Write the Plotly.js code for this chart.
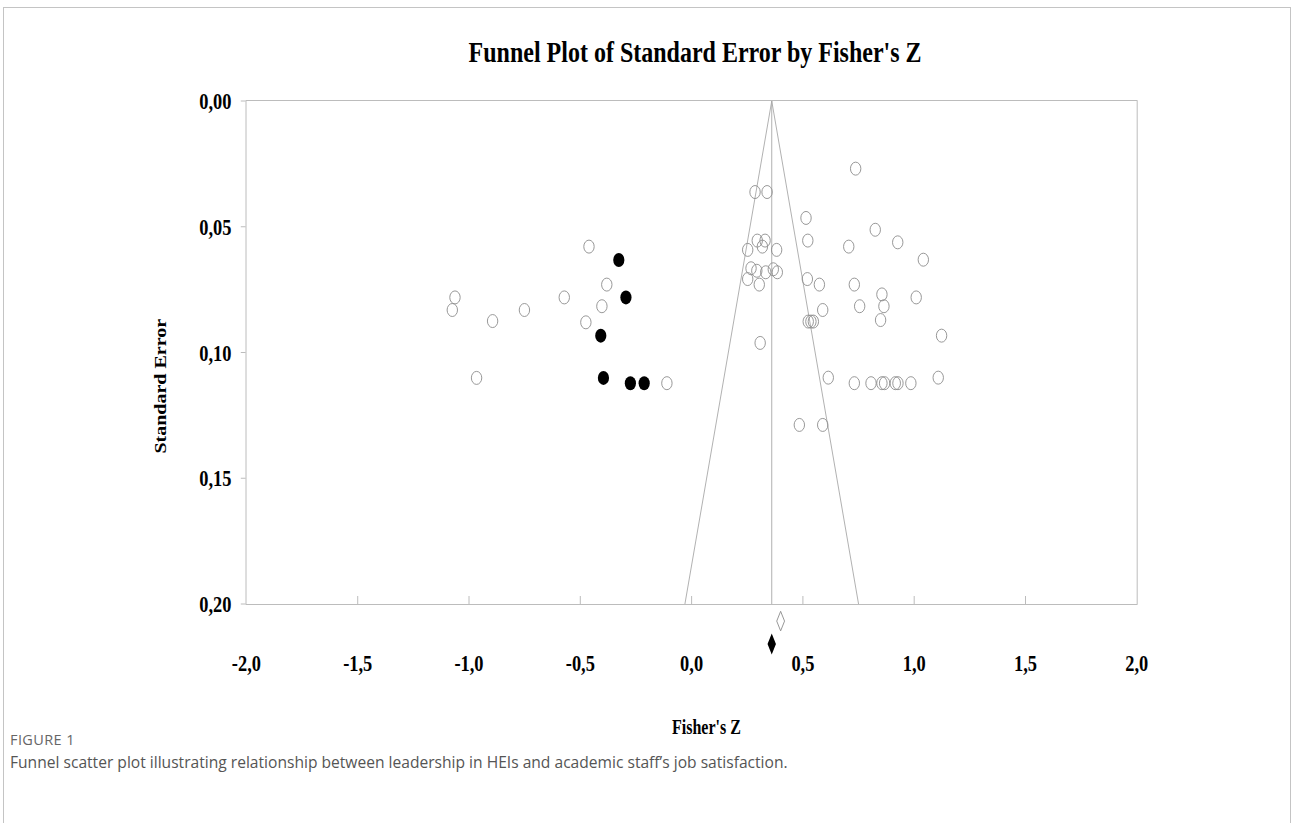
<!DOCTYPE html>
<html>
<head>
<meta charset="utf-8">
<script src="https://cdn.plot.ly/plotly-3.0.1.min.js"></script>
<style>
  html, body { margin: 0; padding: 0; background: #ffffff; overflow: hidden; width: 1293px; height: 823px; }
  #frame { position: absolute; left: 3px; top: 7px; width: 1286px; height: 830px;
           border: 1px solid #c4c4c4; border-bottom: none; }
  #clip { position: absolute; left: 0; top: 0; width: 1293px; height: 823px; overflow: hidden; }
  #chart { position: absolute; left: 0; top: 0; transform-origin: 0 0; }
  .cap1 { position: absolute; left: 10px; top: 730px; font-family: 'Open Sans', 'Noto Sans', sans-serif;
          font-size: 14.5px; color: #666666; letter-spacing: 0.4px; }
  .cap2 { position: absolute; left: 10px; top: 751px; font-family: 'Open Sans', 'Noto Sans', sans-serif;
          font-size: 15.6px; color: #555555; }
</style>
</head>
<body>
<div id="frame"></div>
<div id="clip"><div id="chart"></div></div>
<div class="cap1">FIGURE 1</div>
<div class="cap2">Funnel scatter plot illustrating relationship between leadership in HEIs and academic staff’s job satisfaction.</div>
<script>
// Observed studies (open circles)
const studyZ = [
  -0.461, -0.381, -1.063, -1.075, -0.751, -0.572, -0.403, -0.894, -0.475, -0.966, -0.111,
  0.737, 0.285, 0.339, 0.514, 0.825, 0.522, 0.926, 0.706, 0.295, 0.330, 0.318, 0.252, 0.382,
  1.041, 0.267, 0.293, 0.333, 0.367, 0.385, 0.252, 0.304, 0.520, 0.574, 0.731, 1.009, 0.855,
  0.864, 0.755, 0.589, 0.849, 0.524, 0.536, 0.547, 1.123, 0.308, 0.614, 1.108, 0.731, 0.806,
  0.855, 0.867, 0.915, 0.927, 0.985, 0.484, 0.589
];
const studySE = [
  0.0579, 0.0730, 0.0781, 0.0831, 0.0831, 0.0781, 0.0816, 0.0875, 0.0880, 0.1101, 0.1122,
  0.0269, 0.0362, 0.0362, 0.0465, 0.0512, 0.0555, 0.0562, 0.0579, 0.0555, 0.0555, 0.0579, 0.0592, 0.0592,
  0.0631, 0.0665, 0.0675, 0.0681, 0.0669, 0.0681, 0.0708, 0.0730, 0.0708, 0.0730, 0.0730, 0.0781, 0.0769,
  0.0816, 0.0816, 0.0831, 0.0871, 0.0877, 0.0877, 0.0877, 0.0933, 0.0962, 0.1100, 0.1100, 0.1122, 0.1122,
  0.1122, 0.1122, 0.1122, 0.1122, 0.1122, 0.1288, 0.1288
];
// Imputed studies (filled circles)
const imputedZ  = [-0.327, -0.295, -0.408, -0.396, -0.275, -0.213];
const imputedSE = [0.0632, 0.0781, 0.0933, 0.1101, 0.1122, 0.1122];

// Funnel and summary
const funnelZ  = [-0.03, 0.36, 0.75];
const funnelSE = [0.20, 0.00, 0.20];
const meanLineZ  = [0.36, 0.36];
const meanLineSE = [0.00, 0.20];
const observedSummaryZ = [0.40];
const observedSummarySE = [0.2068];
const adjustedSummaryZ = [0.36];
const adjustedSummarySE = [0.2159];

// Tick labels
const xTickVals = [-2.0, -1.5, -1.0, -0.5, 0.0, 0.5, 1.0, 1.5, 2.0];
const xTickText = ['-2,0', '-1,5', '-1,0', '-0,5', '0,0', '0,5', '1,0', '1,5', '2,0'];
const yTickVals = [0.00, 0.05, 0.10, 0.15, 0.20];
const yTickText = ['0,00', '0,05', '0,10', '0,15', '0,20'];

const serif = 'Liberation Serif, Times New Roman, serif';
const lineGray = '#a8a8a8';

// horizontal squeeze of the whole drawing (the source graphic is narrowed)
const SQ = 0.8;
const W = 1293, H = 823, L = 246, R = 1137, T = 101, B = 604, BD = 660;
const Wu = W / SQ, Lu = L / SQ, Ru = R / SQ;
const pw = R - L, ph = BD - T;
const px = v => (v - L) / pw;
const py = v => (BD - v) / ph;
const mainBottom = (BD - B) / ph;

const traces = [
  { x: funnelZ, y: funnelSE, type: 'scatter', mode: 'lines',
    line: { color: lineGray, width: 1 }, hoverinfo: 'skip', showlegend: false },
  { x: meanLineZ, y: meanLineSE, type: 'scatter', mode: 'lines',
    line: { color: lineGray, width: 1 }, hoverinfo: 'skip', showlegend: false },
  { x: studyZ, y: studySE, type: 'scatter', mode: 'markers', showlegend: false,
    marker: { symbol: 'circle-open', size: 13, color: '#8c8c8c', line: { width: 1, color: '#8c8c8c' } } },
  { x: imputedZ, y: imputedSE, type: 'scatter', mode: 'markers', showlegend: false,
    marker: { symbol: 'circle', size: 14, color: '#000000' } },
  { x: observedSummaryZ, y: observedSummarySE, type: 'scatter', mode: 'markers', showlegend: false,
    xaxis: 'x2', yaxis: 'y2', cliponaxis: false,
    marker: { symbol: 'diamond-tall-open', size: 14, color: '#8c8c8c', line: { width: 1, color: '#8c8c8c' } } },
  { x: adjustedSummaryZ, y: adjustedSummarySE, type: 'scatter', mode: 'markers', showlegend: false,
    xaxis: 'x2', yaxis: 'y2', cliponaxis: false,
    marker: { symbol: 'diamond-tall', size: 15, color: '#000000' } }
];

const tickFont = { family: serif, size: 23, color: '#000000', weight: 'bold' };

const layout = {
  width: Wu, height: H,
  margin: { l: Lu, r: Wu - Ru, t: T, b: H - BD, pad: 0 },
  paper_bgcolor: 'rgba(0,0,0,0)', plot_bgcolor: 'rgba(0,0,0,0)',
  showlegend: false,
  title: { text: "Funnel Plot of Standard Error by Fisher's Z",
           font: { family: serif, size: 30, color: '#000000', weight: 'bold' },
           xref: 'paper', x: px(695), xanchor: 'center',
           yref: 'container', y: 1 - 52 / H, yanchor: 'middle' },
  xaxis: {
    range: [-2, 2], tickvals: xTickVals, ticktext: xTickText,
    showgrid: false, zeroline: false,
    showline: true, mirror: true, linecolor: '#b4b4b4', linewidth: 1,
    ticks: 'inside', ticklen: 8, tickcolor: '#b4b4b4', tickwidth: 1,
    ticklabelstandoff: 38, tickfont: tickFont
  },
  yaxis: {
    domain: [mainBottom, 1],
    range: [0.2, 0], tickvals: yTickVals, ticktext: yTickText,
    showgrid: false, zeroline: false,
    showline: true, mirror: true, linecolor: '#b4b4b4', linewidth: 1,
    ticks: 'outside', ticklen: 6, tickcolor: '#b4b4b4', tickwidth: 1,
    ticklabelstandoff: 7, tickfont: tickFont
  },
  xaxis2: { matches: 'x', anchor: 'y2', visible: false, showgrid: false, zeroline: false },
  yaxis2: { domain: [0, mainBottom], range: [0.2 + (BD - B) * 0.2 / (B - T), 0.2],
            anchor: 'x2', visible: false, showgrid: false, zeroline: false },
  annotations: [
    { text: "Fisher's Z", xref: 'paper', yref: 'paper', x: px(706), y: py(727),
      xanchor: 'center', yanchor: 'middle', showarrow: false,
      font: { family: serif, size: 20, color: '#000000', weight: 'bold' } },
    { text: 'Standard Error', xref: 'paper', yref: 'paper', x: px(160), y: py(386),
      xanchor: 'center', yanchor: 'middle', showarrow: false, textangle: -90,
      font: { family: serif, size: 20, color: '#000000', weight: 'bold' } }
  ]
};

const el = document.getElementById('chart');
el.style.transform = 'scaleX(' + SQ + ')';
Plotly.newPlot(el, traces, layout, { displayModeBar: false, staticPlot: true });
</script>
</body>
</html>
